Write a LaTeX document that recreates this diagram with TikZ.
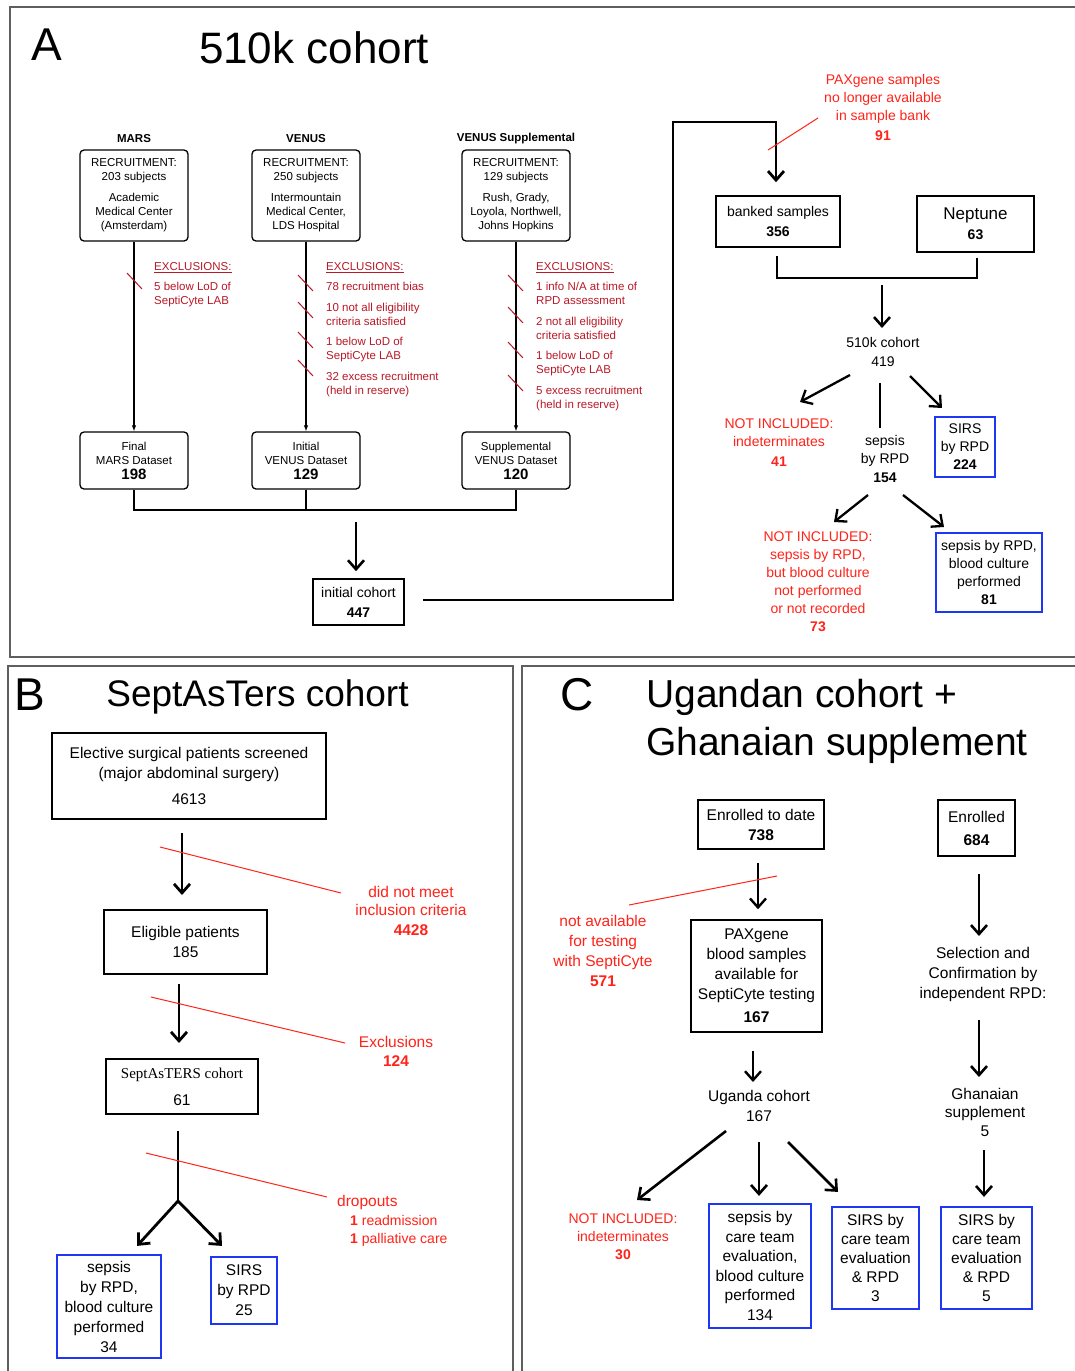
\documentclass[tikz,border=0pt]{standalone}
\usepackage{fontspec}
\setmainfont{Liberation Sans}
\newfontfamily\serifont{Liberation Serif}
\usetikzlibrary{arrows.meta}
\definecolor{dred}{RGB}{185,25,40}
\definecolor{bred}{RGB}{255,35,25}
\definecolor{bblue}{RGB}{30,55,245}
\definecolor{pgray}{RGB}{95,95,95}
\newcommand\fsA{\fontsize{11.5}{14}\selectfont}
\newcommand\fsM{\fontsize{14}{18}\selectfont}
\newcommand\fsL{\fontsize{15.5}{20}\selectfont}
\newcommand\fsT{\fontsize{44}{48}\selectfont}
\tikzset{
  abox/.style={draw, rounded corners=4pt, line width=1.3pt, inner sep=0pt, align=center, font=\fsA},
  sbox/.style={draw, line width=1.6pt, inner sep=0pt, align=center},
  bbox/.style={draw=bblue, line width=2.2pt, inner sep=0pt, align=center},
  txt/.style={inner sep=0pt, align=center},
  hdr/.style={inner sep=0pt, font=\fsA\bfseries},
  excl/.style={anchor=west, align=left, text=dred, font=\fsA, inner sep=0pt},
  rtxt/.style={inner sep=0pt, align=center, text=bred},
  thinarrow/.style={line width=1.1pt, -{Latex[length=6pt,width=4.5pt]}},
  bigarrow/.style={line width=2.6pt, -{Straight Barb[length=9pt,width=16pt]}},
  conn/.style={line width=2.8pt},
  bracket/.style={line width=1.5pt},
  slash/.style={draw=dred, line width=1pt},
  redline/.style={draw=bred, line width=1pt},
  panel/.style={draw=pgray, line width=1.3pt}
}
\begin{document}
\begin{tikzpicture}[x=1pt,y=-1pt]
\useasboundingbox (0,0) rectangle (1074,1371);
\fill[white] (0,0) rectangle (1074,1371);

% ---------- panels ----------
\draw[panel] (10,7) rectangle (1090,657);
\draw[panel] (8,666) rectangle (513,1390);
\draw[panel] (522,666) rectangle (1090,1390);

% ================= PANEL A =================
\node[txt, font=\fontsize{46}{50}\selectfont] (tA) at (47,45) {A};
\node[txt, font=\fsT] (tA2) at (314,48) {510k cohort};

\node[hdr] (hmars) at (134,139) {MARS};
\node[hdr] (hven) at (306,139) {VENUS};
\node[hdr] (hvs) at (516,139) {VENUS Supplemental};

\node[abox, minimum width=108pt, minimum height=91pt] (mars) at (134,195.5) {RECRUITMENT:\\203 subjects\\[7pt]Academic\\Medical Center\\(Amsterdam)};
\node[abox, minimum width=108pt, minimum height=91pt] (ven) at (306,195.5) {RECRUITMENT:\\250 subjects\\[7pt]Intermountain\\Medical Center,\\LDS Hospital};
\node[abox, minimum width=108pt, minimum height=91pt] (vs) at (516,195.5) {RECRUITMENT:\\129 subjects\\[7pt]Rush, Grady,\\Loyola, Northwell,\\Johns Hopkins};

\node[abox, minimum width=108pt, minimum height=57pt] (mfin) at (134,460.5) {Final\\MARS Dataset\\[1pt]{\fontsize{15}{18}\selectfont\bfseries 198}};
\node[abox, minimum width=108pt, minimum height=57pt] (vfin) at (306,460.5) {Initial\\VENUS Dataset\\[1pt]{\fontsize{15}{18}\selectfont\bfseries 129}};
\node[abox, minimum width=108pt, minimum height=57pt] (vsfin) at (516,460.5) {Supplemental\\VENUS Dataset\\[1pt]{\fontsize{15}{18}\selectfont\bfseries 120}};

\draw[thinarrow] (mars.south) -- (mfin.north);
\draw[thinarrow] (ven.south) -- (vfin.north);
\draw[thinarrow] (vs.south) -- (vsfin.north);

\node[excl] (exm) at (154,285) {\underline{EXCLUSIONS:}\\[6pt]5 below LoD of\\SeptiCyte LAB};
\node[excl] (exv) at (326,330) {\underline{EXCLUSIONS:}\\[6pt]78 recruitment bias\\[7pt]10 not all eligibility\\criteria satisfied\\[6pt]1 below LoD of\\SeptiCyte LAB\\[7pt]32 excess recruitment\\(held in reserve)};
\node[excl] (exvs) at (536,337) {\underline{EXCLUSIONS:}\\[6pt]1 info N/A at time of\\RPD assessment\\[7pt]2 not all eligibility\\criteria satisfied\\[6pt]1 below LoD of\\SeptiCyte LAB\\[7pt]5 excess recruitment\\(held in reserve)};

\draw[slash] (127,273) -- (142,289);
\draw[slash] (298,275) -- (313,291);
\draw[slash] (298,302) -- (313,318);
\draw[slash] (298,332) -- (313,348);
\draw[slash] (298,360) -- (313,376);
\draw[slash] (508,275) -- (523,291);
\draw[slash] (508,307) -- (523,323);
\draw[slash] (508,342) -- (523,358);
\draw[slash] (508,375) -- (523,391);

\coordinate (mergeC) at (356,510);
\draw[line width=1.3pt] (mfin.south) |- (mergeC) -| (vsfin.south);
\draw[line width=1.3pt] (vfin.south) -- (vfin.south |- mergeC);

\node[sbox, minimum width=91pt, minimum height=46pt, font=\fsM] (init) at (358.5,602) {initial cohort\\[2pt]\textbf{447}};
\draw[bigarrow] ([shift={(0,12)}]mergeC) -- ([shift={(-2.5,-7)}]init.north);

\node[sbox, minimum width=124pt, minimum height=51pt, font=\fsM] (banked) at (778,221.5) {banked samples\\[2pt]\textbf{356}};
\node[sbox, minimum width=117pt, minimum height=56pt, font=\fsM] (nep) at (975.5,224) {{\fontsize{17}{20}\selectfont Neptune}\\[2pt]\textbf{63}};

\coordinate (turn) at (673,122);
\draw[conn, -{Straight Barb[length=9pt,width=16pt]}] ([shift={(18,-2)}]init.east) -| (turn) -| ([shift={(-2,-13)}]banked.north);

\node[rtxt, font=\fsM] (pax) at (883,107) {PAXgene samples\\no longer available\\in sample bank\\[2pt]\textbf{91}};
\draw[redline] (768,150) -- (818,118);

\coordinate (brk) at (882,278);
\draw[bracket] ([shift={(-1,8)}]banked.south) |- (brk) -| ([shift={(1.5,5)}]nep.south);

\node[txt, font=\fsM] (c510) at (883,352) {510k cohort\\[1pt]419};
\draw[bigarrow] ([shift={(0,7)}]brk) -- ([shift={(-1,-24)}]c510.center);

\node[rtxt, font=\fsM] (niA1) at (779,443) {NOT INCLUDED:\\indeterminates\\[2pt]\textbf{41}};
\node[txt, font=\fsM] (sep154) at (885,459) {sepsis\\by RPD\\[1pt]\textbf{154}};
\node[bbox, minimum width=60pt, minimum height=60pt, font=\fsM] (sirsA) at (965,447) {SIRS\\by RPD\\\textbf{224}};

\draw[bigarrow, line width=2.3pt] ([shift={(-33,23)}]c510.center) -- ([shift={(21,-41)}]niA1.center);
\draw[line width=2.3pt] ([shift={(-3,31)}]c510.center) -- ([shift={(-5,-31)}]sep154.center);
\draw[bigarrow, line width=2.3pt] ([shift={(27,24)}]c510.center) -- ([shift={(-23,-39)}]sirsA.center);

\node[rtxt, font=\fsM] (niA2) at (818,582) {NOT INCLUDED:\\sepsis by RPD,\\but blood culture\\not performed\\or not recorded\\\textbf{73}};
\node[bbox, minimum width=106pt, minimum height=79pt, font=\fsM] (bA81) at (989,572.5) {sepsis by RPD,\\blood culture\\performed\\\textbf{81}};

\draw[bigarrow, line width=2.3pt] ([shift={(-17,36)}]sep154.center) -- ([shift={(16,-60)}]niA2.center);
\draw[bigarrow, line width=2.3pt] ([shift={(18,36)}]sep154.center) -- ([shift={(-45,-45.5)}]bA81.center);

% ================= PANEL B =================
\node[txt, font=\fontsize{46}{50}\selectfont] (tB) at (30,695) {B};
\node[txt, font=\fontsize{37}{42}\selectfont] (tB2) at (257.5,697) {SeptAsTers cohort};

\node[sbox, line width=2pt, minimum width=274pt, minimum height=86pt, font=\fsL] (b1) at (189,776) {Elective surgical patients screened\\(major abdominal surgery)\\[6pt]4613};
\node[sbox, line width=2pt, minimum width=163pt, minimum height=64pt, font=\fsL] (b2) at (185.5,942) {Eligible patients\\185};
\node[sbox, line width=2pt, minimum width=152pt, minimum height=55pt, font=\fsL] (b3) at (182,1086.5) {{\serifont\fontsize{15}{18}\selectfont SeptAsTERS cohort}\\[7pt]61};

\draw[bigarrow, line width=2.8pt] ([shift={(-7,13)}]b1.south) -- ([shift={(-3.5,-14)}]b2.north);
\draw[bigarrow, line width=2.8pt] ([shift={(-6.5,9)}]b2.south) -- ([shift={(-3,-15)}]b3.north);

\node[rtxt, font=\fontsize{15.5}{18}\selectfont] (rB1) at (411,911) {did not meet\\inclusion criteria\\[2pt]\textbf{4428}};
\draw[redline] (160,847) -- (341,893);
\node[rtxt, font=\fontsize{15.5}{19}\selectfont] (rB2) at (396,1051.5) {Exclusions\\\textbf{124}};
\draw[redline] (151,997) -- (345,1043);

\node[bbox, line width=2.2pt, minimum width=104pt, minimum height=103pt, font=\fsL] (sepB) at (109,1306.5) {sepsis\\by RPD,\\blood culture\\performed\\34};
\node[bbox, line width=2.2pt, minimum width=66pt, minimum height=67pt, font=\fsL] (sirsB) at (244,1290.5) {SIRS\\by RPD\\25};

\coordinate (fork) at (178,1201);
\draw[line width=2.8pt] ([shift={(-4,16)}]b3.south) -- (fork);
\draw[bigarrow, line width=2.8pt] (fork) -- ([shift={(28,-8)}]sepB.north);
\draw[bigarrow, line width=2.8pt] (fork) -- ([shift={(-22,-10)}]sirsB.north);

\node[rtxt, font=\fsL, anchor=west] (rB3) at (337,1202) {dropouts};
\node[rtxt, font=\fsM, anchor=west, align=left] (rB4) at (350,1231) {\textbf{1} readmission\\\textbf{1} palliative care};
\draw[redline] (146,1153) -- (327,1197);

% ================= PANEL C =================
\node[txt, font=\fontsize{46}{50}\selectfont] (tC) at (577,695) {C};
\node[txt, font=\fontsize{39}{48}\selectfont, anchor=west, align=left] (tC2) at (646,721) {Ugandan cohort +\\Ghanaian supplement};

\node[sbox, line width=1.5pt, minimum width=126pt, minimum height=49pt, font=\fsL] (enr) at (761,824.5) {Enrolled to date\\\textbf{738}};
\node[sbox, line width=1.5pt, minimum width=77pt, minimum height=56pt, font=\fsL] (enr2) at (976.5,828) {Enrolled\\[3pt]\textbf{684}};
\node[sbox, line width=1.5pt, minimum width=131pt, minimum height=112pt, font=\fsL] (paxC) at (756.5,976) {PAXgene\\blood samples\\available for\\SeptiCyte testing\\[3pt]\textbf{167}};

\draw[bigarrow, line width=2.4pt] ([shift={(-3,13)}]enr.south) -- ([shift={(1.5,-10)}]paxC.north);
\node[rtxt, font=\fsL] (rC1) at (603,951) {not available\\for testing\\with SeptiCyte\\\textbf{571}};
\draw[redline] (629,905) -- (777,876);

\node[txt, font=\fsL] (uga) at (759,1106) {Uganda cohort\\167};
\draw[bigarrow, line width=2.4pt] ([shift={(-3.5,18)}]paxC.south) -- ([shift={(-6,-24)}]uga.center);

\node[rtxt, font=\fsM] (niC) at (623,1237) {NOT INCLUDED:\\indeterminates\\\textbf{30}};
\node[bbox, minimum width=102pt, minimum height=124pt, font=\fontsize{15.5}{19.6}\selectfont] (b134) at (760,1266) {sepsis by\\care team\\evaluation,\\blood culture\\performed\\134};
\node[bbox, minimum width=87pt, minimum height=102pt, font=\fontsize{15.5}{19}\selectfont] (b3C) at (875.5,1258) {SIRS by\\care team\\evaluation\\\& RPD\\3};
\node[bbox, minimum width=91pt, minimum height=102pt, font=\fontsize{15.5}{19}\selectfont] (b5C) at (986.5,1258) {SIRS by\\care team\\evaluation\\\& RPD\\5};

\draw[bigarrow, line width=2.6pt] ([shift={(-33,25)}]uga.center) -- ([shift={(14,-37)}]niC.center);
\draw[bigarrow, line width=2.6pt] ([shift={(0,36)}]uga.center) -- ([shift={(-1,-7)}]b134.north);
\draw[bigarrow, line width=2.6pt] ([shift={(29,36)}]uga.center) -- ([shift={(-37.5,-14)}]b3C.north);

\node[txt, font=\fsL] (sel) at (983,974) {Selection and\\Confirmation by\\independent RPD:};
\node[txt, font=\fontsize{15.5}{18.5}\selectfont] (gha) at (985,1112) {Ghanaian\\supplement\\5};

\draw[bigarrow, line width=2.6pt] ([shift={(2.5,17)}]enr2.south) -- ([shift={(-4,-38)}]sel.center);
\draw[bigarrow, line width=2.6pt] ([shift={(-4,46)}]sel.center) -- ([shift={(-6,-35)}]gha.center);
\draw[bigarrow, line width=2.6pt] ([shift={(-1,38)}]gha.center) -- ([shift={(-2.5,-9)}]b5C.north);

\end{tikzpicture}
\end{document}
